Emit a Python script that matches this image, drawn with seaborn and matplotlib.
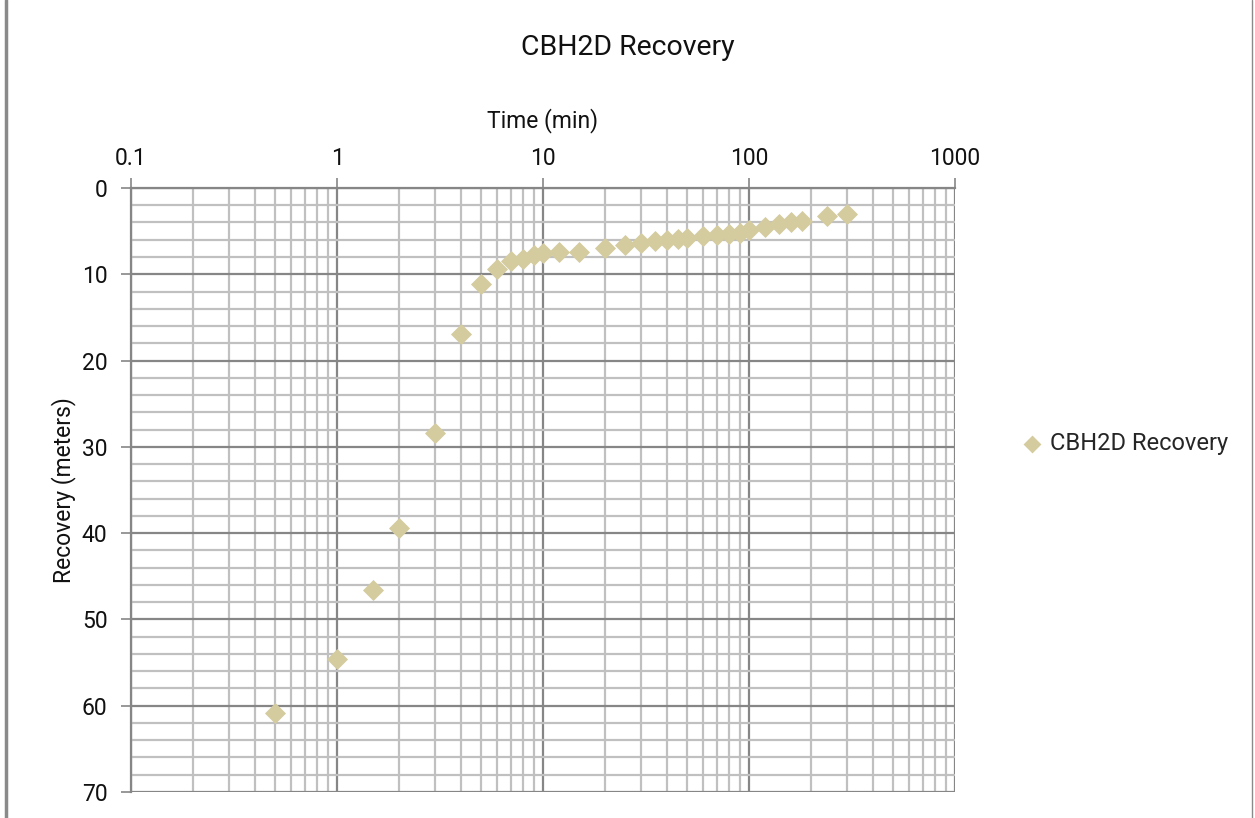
import pandas as pd
import matplotlib.pyplot as plt
import matplotlib.ticker as mticker
from matplotlib.lines import Line2D
import seaborn as sns

# readings
time_min = [0.5, 1, 1.5, 2, 3, 4, 5, 6, 7, 8, 9, 10, 12, 15, 20, 25, 30, 35,
            40, 45, 50, 60, 70, 80, 90, 100, 120, 140, 160, 180, 240, 300]
recovery_m = [60.8, 54.6, 46.6, 39.4, 28.4, 16.9, 11.1, 9.4, 8.5, 8.2, 7.8, 7.5,
              7.4, 7.4, 7.0, 6.6, 6.4, 6.2, 6.0, 5.95, 5.8, 5.6, 5.45, 5.3,
              5.2, 4.9, 4.5, 4.2, 4.0, 3.8, 3.3, 3.05]
series_name = "CBH2D Recovery"

x_ticks = [0.1, 1, 10, 100, 1000]
x_ticklabels = ["0.1", "1", "10", "100", "1000"]
y_ticks = [0, 10, 20, 30, 40, 50, 60, 70]

df = pd.DataFrame({"time": time_min, "recovery": recovery_m})

sns.set_theme(style="white")
plt.rcParams["font.family"] = ["Roboto", "DejaVu Sans"]

major_col = "#868686"
minor_col = "#c0c0c0"
marker_col = "#D4CB9F"
text_col = "#111111"

fig = plt.figure(figsize=(12.55, 8.18), dpi=100)
ax = fig.add_axes([0.1044, 0.0318, 0.6566, 0.7384])

sns.scatterplot(data=df, x="time", y="recovery", ax=ax, marker="D", s=115,
                color=marker_col, edgecolor=marker_col, linewidth=0,
                label=series_name, zorder=5)

ax.set_xscale("log")
ax.set_xlim(0.1, 1000)
ax.set_ylim(70, 0)

ax.xaxis.set_major_locator(mticker.FixedLocator(x_ticks))
ax.xaxis.set_major_formatter(mticker.FixedFormatter(x_ticklabels))
ax.xaxis.set_minor_locator(mticker.LogLocator(base=10, subs=range(2, 10)))
ax.xaxis.set_minor_formatter(mticker.NullFormatter())
ax.yaxis.set_major_locator(mticker.FixedLocator(y_ticks))
ax.yaxis.set_minor_locator(mticker.MultipleLocator(2))

ax.xaxis.tick_top()
ax.xaxis.set_label_position("top")

ax.grid(which="minor", color=minor_col, lw=1.6, zorder=0)
ax.grid(which="major", color=major_col, lw=1.6, zorder=1)
ax.set_axisbelow(True)

ax.tick_params(which="major", axis="both", direction="out", length=7,
               width=1.2, color=major_col, labelsize=16.5, labelcolor=text_col)
ax.tick_params(axis="x", which="major", top=True, bottom=False, pad=6)
ax.tick_params(axis="y", which="major", left=True, right=False, pad=10)
ax.tick_params(which="minor", length=0)

for side in ["right", "bottom"]:
    ax.spines[side].set_visible(False)
for side in ["left", "top"]:
    ax.spines[side].set_color(major_col)
    ax.spines[side].set_linewidth(1.6)

ax.set_xlabel("Time (min)", fontsize=16.5, color=text_col, labelpad=14)
ax.set_ylabel("Recovery (meters)", fontsize=16.5, color=text_col, labelpad=4)

fig.suptitle("CBH2D Recovery", x=0.5, y=0.958, fontsize=20.5, color=text_col)

ax.legend(loc="center left", bbox_to_anchor=(1.055, 0.577), frameon=False,
          fontsize=17, handlelength=0.9, handletextpad=0.3, markerscale=0.85)

# chart frame edges
fig.add_artist(Line2D([0.005, 0.005], [0, 1], color="#8a8a8a", lw=2.5,
                      transform=fig.transFigure))
fig.add_artist(Line2D([0.998, 0.998], [0, 1], color="#8a8a8a", lw=1,
                      transform=fig.transFigure))

fig.savefig("out.png", dpi=100)
